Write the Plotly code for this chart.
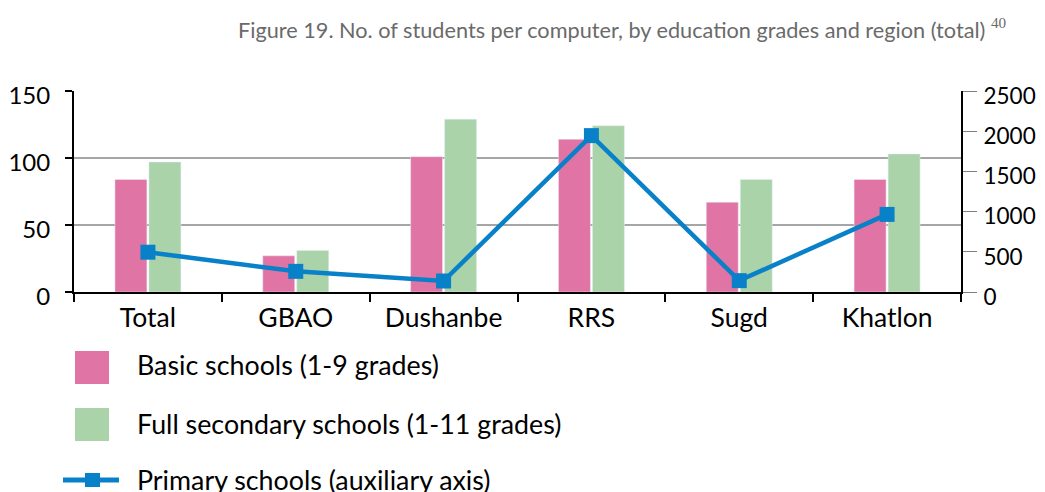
import plotly.graph_objects as go

REGIONS = ["Total", "GBAO", "Dushanbe", "RRS", "Sugd", "Khatlon"]
BASIC = [84, 27, 101, 114, 67, 84]
FULL_SECONDARY = [97, 31, 129, 124, 84, 103]
PRIMARY = [495, 257, 137, 1945, 141, 965]

LEGEND_LABELS = [
    "Basic schools (1-9 grades)",
    "Full secondary schools (1-11 grades)",
    "Primary schools (auxiliary axis)",
]

PINK = "#E075A5"
GREEN = "#AAD3AA"
BLUE = "#0881C9"
FONT = "Lato"

# the page body has an 8px margin, so the figure is placed 8px in from the corner
OFF = 8
FIG_W, FIG_H = 1045 - OFF, 492 - OFF

# plot area in screen pixels
LEFT, RIGHT, TOP, BOTTOM = 74, 961, 91, 292
PW, PH = RIGHT - LEFT, BOTTOM - TOP


def px(x):
    return (x - LEFT) / PW


def py(y):
    return (BOTTOM - y) / PH


fig = go.Figure()
fig.add_trace(go.Bar(x=REGIONS, y=BASIC, marker_color=PINK, name=LEGEND_LABELS[0], showlegend=False))
fig.add_trace(go.Bar(x=REGIONS, y=FULL_SECONDARY, marker_color=GREEN, name=LEGEND_LABELS[1], showlegend=False))
fig.add_trace(
    go.Scatter(
        x=REGIONS,
        y=PRIMARY,
        yaxis="y2",
        mode="lines+markers",
        line=dict(color=BLUE, width=4.5),
        marker=dict(symbol="square", size=15, color=BLUE),
        name=LEGEND_LABELS[2],
        showlegend=False,
    )
)

# hand-drawn legend (big swatches like the original)
shapes = [
    dict(type="rect", xref="paper", yref="paper", x0=px(75), x1=px(109), y0=py(384), y1=py(351),
         fillcolor=PINK, line_width=0),
    dict(type="rect", xref="paper", yref="paper", x0=px(75), x1=px(109), y0=py(441), y1=py(408),
         fillcolor=GREEN, line_width=0),
    dict(type="line", xref="paper", yref="paper", x0=px(63), x1=px(119), y0=py(480), y1=py(480),
         line=dict(color=BLUE, width=5)),
    dict(type="rect", xref="paper", yref="paper", x0=px(85), x1=px(100), y0=py(487), y1=py(473),
         fillcolor=BLUE, line_width=0),
]
annotations = [
    dict(text=label, xref="paper", yref="paper", x=px(135), y=py(yc), xanchor="left", yanchor="middle",
         showarrow=False, font=dict(family=FONT, size=26.8, color="black"))
    for label, yc in zip(LEGEND_LABELS, [365, 424, 480])
]

fig.update_layout(
    width=FIG_W,
    height=FIG_H,
    margin=dict(l=LEFT - OFF, r=1045 - RIGHT, t=TOP - OFF, b=492 - BOTTOM, autoexpand=False),
    paper_bgcolor="white",
    plot_bgcolor="white",
    font=dict(family=FONT, size=24, color="black"),
    title=dict(
        text="Figure 19. No. of students per computer, by education grades and region (total) "
             "<sup><span style='font-family:Liberation Serif'>40</span></sup>",
        x=(238 - OFF) / FIG_W,
        xanchor="left",
        y=1 - (30 - OFF) / FIG_H,
        yanchor="middle",
        font=dict(family=FONT, size=21.7, color="#6A6A6A"),
    ),
    barmode="group",
    bargap=0.54,
    bargroupgap=0.06,
    xaxis=dict(
        type="category",
        tickson="boundaries",
        ticks="outside",
        ticklen=8,
        tickwidth=2,
        tickcolor="black",
        showline=True,
        linewidth=2,
        linecolor="black",
        tickfont=dict(size=26.5),
        ticklabelstandoff=1,
        showgrid=False,
        automargin=False,
    ),
    yaxis=dict(
        range=[0, 150],
        dtick=50,
        ticks="outside",
        ticklen=7,
        tickwidth=2,
        tickcolor="black",
        showline=True,
        linewidth=2,
        linecolor="black",
        showgrid=True,
        gridcolor="#A6A6A6",
        gridwidth=1.5,
        zeroline=False,
        ticklabelstandoff=10,
        ticklabelshift=5,
        automargin=False,
    ),
    yaxis2=dict(
        overlaying="y",
        side="right",
        range=[0, 2500],
        dtick=500,
        ticks="outside",
        ticklen=14,
        tickwidth=1,
        tickcolor="#808080",
        showline=True,
        linewidth=2,
        linecolor="black",
        showgrid=False,
        zeroline=False,
        tickfont=dict(size=22.5),
        ticklabelstandoff=2,
        ticklabelshift=5,
        automargin=False,
    ),
    shapes=shapes,
    annotations=annotations,
)

fig.write_html("out.html")
